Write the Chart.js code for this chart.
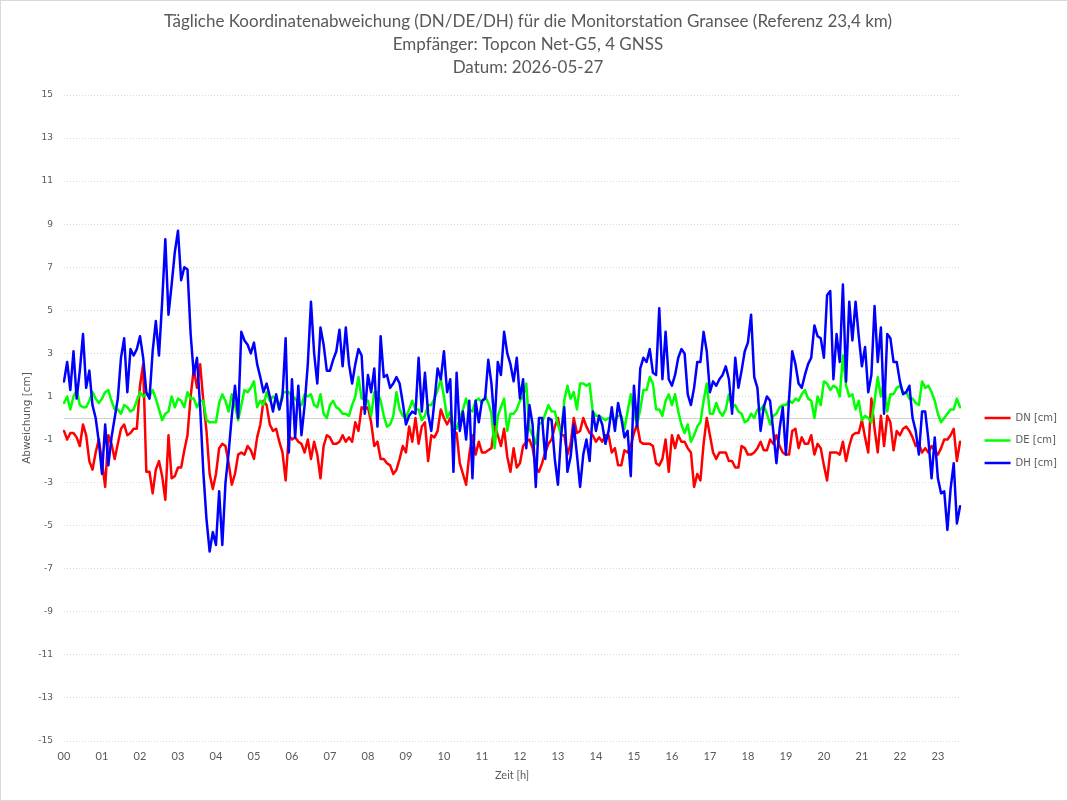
<!DOCTYPE html>
<html><head><meta charset="utf-8">
<script src="https://cdn.jsdelivr.net/npm/chart.js@4.4.1/dist/chart.umd.min.js"></script>
<style>
html,body{margin:0;padding:0;background:#fff;}
#wrap{position:relative;width:1066px;height:799px;border:1px solid #d9d9d9;background:#fff;}
</style></head><body>
<div id="wrap"><canvas id="c" width="1066" height="799"></canvas></div>
<script>
const hourLabels = ['00','01','02','03','04','05','06','07','08','09','10','11','12','13','14','15','16','17','18','19','20','21','22','23'];
const minuteLabels = ['00','05','10','15','20','25','30','35','40','45','50','55'];

const DN = [
-0.6,-1.0,-0.7,-0.7,-0.9,-1.3,-0.3,-0.8,-2.0,-2.4,
-1.6,-1.0,-2.0,-3.2,-0.8,-1.2,-1.9,-1.2,-0.5,-0.3,
-0.8,-0.7,-0.5,-0.5,1.5,2.5,-2.5,-2.5,-3.5,-2.4,
-2.0,-2.7,-3.8,-0.8,-2.8,-2.7,-2.3,-2.3,-1.5,-0.8,
1.0,2.3,1.4,2.5,0.8,-0.6,-2.6,-3.3,
-2.6,-1.4,-1.2,-1.3,-2.1,-3.1,-2.6,-1.7,-1.6,-1.7,
-1.3,-1.5,-1.9,-0.9,-0.3,0.8,0.6,-0.3,-0.6,-0.5,
-1.1,-1.6,-2.9,-0.8,-1.0,-0.9,-1.1,-1.2,-1.6,-1.0,
-1.9,-1.1,-1.7,-2.8,-1.3,-0.8,-0.9,-1.2,-1.2,-1.1,
-0.8,-1.1,-0.9,-1.1,-0.2,-0.6,0.5,0.4,
0.5,-0.2,-1.3,-1.1,-1.9,-1.9,-2.1,-2.2,-2.6,-2.4,
-1.9,-1.3,-1.6,-0.4,-1.1,0.0,-1.2,-0.4,-0.2,-2.0,
-0.8,-0.9,-0.6,0.4,0.0,-0.3,0.0,-0.6,-0.7,-2.1,
-2.6,-3.1,-1.7,-0.8,-1.7,-1.1,-1.6,-1.6,-1.5,-1.4,
-0.3,-0.8,-1.3,-0.5,-1.8,-2.5,-1.4,
-2.3,-2.1,-1.3,-1.1,-1.0,-1.4,-2.3,-2.5,-2.1,-1.6,
-1.2,-1.0,-0.4,0.0,-0.8,-0.8,-1.7,-1.2,0.0,-0.7,
-0.6,0.0,-0.4,-0.7,-0.8,-1.1,-0.9,-1.1,-0.8,-0.8,
-1.6,-1.4,-2.2,-2.2,-1.5,-1.6,-1.3,-0.7,-0.3,-1.1,
-1.2,-1.2,-1.2,-1.3,-2.1,-2.2,-1.9,
-1.0,-2.5,-0.8,-1.4,-0.8,-1.1,-1.1,-1.4,-1.6,-3.2,
-2.6,-2.9,-1.2,0.0,-0.8,-1.6,-1.9,-1.6,-1.6,-1.6,
-2.0,-2.0,-2.3,-2.3,-1.3,-1.4,-1.7,-1.7,-1.6,-1.4,
-1.1,-1.5,-1.5,-1.0,-1.2,-0.8,-1.3,-1.6,-1.7,-1.7,
-0.6,-0.5,-1.4,-0.9,-1.2,-1.2,-0.8,-1.7,
-1.2,-1.4,-2.2,-2.9,-1.6,-1.6,-1.6,-1.7,-1.1,-2.0,
-1.3,-0.8,-0.7,-0.7,-0.1,-0.9,-1.6,0.9,-0.5,-1.6,
0.1,-1.3,0.1,-0.2,-1.5,-0.6,-0.8,-0.5,-0.4,-0.6,
-0.9,-1.3,-1.2,-1.6,-1.4,-1.6,-1.3,-1.5,-1.7,-1.4,
-1.0,-1.0,-0.8,-0.5,-2.0,-1.1
];

const DE = [
0.7,1.0,0.4,1.0,1.3,0.6,0.5,0.5,0.8,1.2,
0.9,0.7,0.9,1.2,1.3,0.8,0.4,0.4,0.2,0.6,
0.5,0.3,0.4,0.8,1.2,1.0,1.1,1.0,1.3,0.9,
0.4,-0.1,0.2,0.3,1.0,0.5,0.9,0.8,0.5,1.2,
0.9,0.9,0.5,0.8,0.8,-0.1,-0.2,-0.2,
-0.2,0.7,1.1,0.8,0.3,1.1,0.6,-0.1,0.6,1.3,
1.2,1.4,1.7,0.5,0.8,0.6,1.2,0.8,1.0,0.9,
0.4,1.2,1.2,1.2,1.0,0.9,0.7,0.6,1.1,1.0,
1.1,0.6,0.5,1.1,0.2,0.0,0.6,0.8,0.5,0.4,
0.2,0.2,0.1,0.6,1.0,1.9,0.9,0.9,
0.8,0.1,1.2,1.2,0.8,0.1,-0.4,-0.3,0.1,1.2,
0.4,0.1,0.0,0.4,0.8,0.4,0.4,-0.1,0.1,0.6,
0.6,0.9,1.3,1.8,1.0,0.0,0.3,-0.4,-0.5,0.0,
0.4,0.9,0.4,0.3,0.8,0.9,0.7,1.0,0.7,0.2,
-1.4,0.1,0.5,0.9,-0.6,0.2,0.2,
0.4,0.8,1.0,1.6,-0.5,-0.8,-1.2,-0.3,-0.2,0.2,
0.6,0.3,0.3,-0.3,-0.8,0.8,1.5,0.9,1.2,0.4,
1.6,1.6,1.5,1.6,0.3,0.1,0.1,0.0,-0.1,0.0,
0.0,-0.1,0.1,0.1,-0.5,0.3,1.1,0.2,-0.3,0.4,
1.3,1.3,1.9,1.6,0.4,0.4,0.1,
0.8,1.1,0.6,1.1,0.3,-0.3,-0.7,-0.3,-1.1,-0.8,
-0.4,-0.2,0.8,1.6,0.2,0.2,0.7,0.3,0.1,0.4,
1.1,0.5,0.6,0.3,0.2,-0.2,-0.1,0.2,0.0,0.4,
0.4,0.6,0.2,-0.3,0.1,0.2,0.5,0.6,0.6,0.8,
0.7,0.9,0.8,1.1,1.3,0.9,0.8,0.0,
1.0,0.6,1.7,1.6,1.3,1.5,1.4,1.0,2.9,1.5,
1.0,1.1,0.4,0.8,-0.1,0.1,0.0,-0.2,0.8,1.9,
1.0,1.7,0.3,1.1,1.1,1.4,1.5,1.2,1.2,0.9,
0.9,0.7,0.6,1.7,1.4,1.5,1.2,0.8,0.2,-0.2,
0.0,0.2,0.4,0.4,0.9,0.5
];

const DH = [
1.7,2.6,1.3,3.1,0.9,2.2,3.9,1.4,2.2,0.6,
0.0,-1.1,-2.6,-0.3,-2.2,-0.9,0.0,0.9,2.8,3.7,
1.2,3.2,2.9,3.2,3.8,2.8,1.2,0.9,3.1,4.5,
2.9,5.4,8.3,4.8,6.2,7.7,8.7,6.4,7.0,6.9,
3.9,2.0,2.8,0.5,-2.5,-4.7,-6.2,-5.3,
-5.9,-3.4,-5.9,-3.0,-1.6,0.1,1.5,0.0,4.0,3.6,
3.4,3.0,3.5,2.5,1.9,1.2,1.6,1.0,0.3,1.1,
0.4,1.0,3.7,-1.6,1.8,-0.9,1.5,-0.8,0.6,2.5,
5.4,3.0,1.6,4.2,3.4,2.2,2.2,2.7,3.1,4.1,
2.4,4.2,2.5,1.6,2.5,3.2,2.9,0.2,
2.0,1.2,2.3,-0.4,3.8,1.9,2.0,1.4,1.6,1.9,
1.6,0.7,-0.3,0.1,0.3,0.2,2.8,0.3,2.1,0.2,
-0.6,0.8,2.3,1.8,3.1,1.2,1.8,-2.5,2.1,-0.6,
0.3,-1.0,0.8,-2.8,0.8,-0.2,0.8,0.9,2.7,1.6,
-0.3,2.6,2.0,4.0,3.0,2.5,1.7,
2.8,0.9,1.8,-1.4,0.6,-0.3,-3.2,0.0,0.0,-1.9,
0.0,-0.1,-1.9,-3.1,-0.8,0.5,-2.5,-1.8,-0.3,-1.7,
-3.2,-1.7,-1.0,-2.0,0.3,-0.6,0.1,-0.3,-1.2,-0.6,
0.5,-0.6,0.7,0.0,-0.9,-0.6,-2.7,1.5,-0.4,2.3,
2.8,2.6,3.2,2.1,2.0,5.1,1.8,
4.0,1.8,1.5,2.0,2.8,3.2,3.0,1.1,0.6,1.4,
2.6,2.6,4.0,3.1,1.2,1.7,1.5,1.8,2.0,2.4,
1.8,0.2,2.8,1.4,2.2,3.1,3.5,4.8,1.9,1.4,
-0.6,0.5,1.0,0.8,-0.6,-2.1,-0.5,0.5,-1.7,0.9,
3.1,2.5,1.6,1.4,2.0,2.5,2.8,4.3,
3.8,3.7,2.8,5.7,5.9,1.8,3.9,2.6,6.2,1.7,
5.4,3.6,5.4,3.8,2.4,3.3,1.2,2.0,5.2,2.6,
4.2,0.2,3.9,3.7,2.6,2.6,1.7,1.1,1.2,1.5,
0.0,-0.6,-1.7,0.3,0.3,-1.0,-2.8,-0.9,-2.8,-3.5,
-3.4,-5.2,-3.3,-2.1,-4.9,-4.1
];

const seriesNames = ['DN [cm]','DE [cm]','DH [cm]'];
const seriesColors = ['#ff0000','#00ff00','#0000ff'];
const titleLines = ['Tägliche Koordinatenabweichung (DN/DE/DH) für die Monitorstation Gransee (Referenz 23,4 km)','Empfänger: Topcon Net-G5, 4 GNSS','Datum: 2026-05-27'];

const timeLabels = [];
hourLabels.forEach(h => minuteLabels.forEach(m => timeLabels.push(h + ':' + m)));
const labels = timeLabels.slice(0, DN.length);

const TXT = '#595959';
const NARROW = 'Lato, "Open Sans", sans-serif';
const UI = '"DejaVu Sans", sans-serif';

const zeroLine = {
  id: 'zeroLine',
  beforeDatasetsDraw(chart) {
    const {ctx, chartArea, scales} = chart;
    const y = Math.round(scales.y.getPixelForValue(0)) + 0.5;
    ctx.save();
    ctx.strokeStyle = '#d0d0d0';
    ctx.lineWidth = 1;
    ctx.beginPath();
    ctx.moveTo(chartArea.left, y);
    ctx.lineTo(chartArea.right, y);
    ctx.stroke();
    ctx.restore();
  }
};

const legendOffset = {
  id: 'legendOffset',
  afterLayout(chart) {
    const lg = chart.legend;
    if (!lg) return;
    const dx = 12, dy = 40;
    lg.left += dx; lg.right += dx;
    lg.top += dy; lg.bottom += dy;
  }
};

const series = [DN, DE, DH];
new Chart(document.getElementById('c'), {
  type: 'line',
  data: {
    labels: labels,
    datasets: series.map((d, k) => ({
      label: seriesNames[k],
      data: d,
      borderColor: seriesColors[k],
      backgroundColor: seriesColors[k],
      borderWidth: 2.5,
      pointRadius: 0,
      pointStyle: 'line',
      tension: 0,
      borderJoinStyle: 'round',
      borderCapStyle: 'round',
      order: 2 - k
    }))
  },
  options: {
    responsive: false,
    animation: false,
    layout: { padding: { left: 0, right: 12, top: 0, bottom: 0 } },
    plugins: {
      title: {
        display: true,
        text: titleLines,
        color: TXT,
        font: { family: NARROW, size: 17, weight: 'normal', lineHeight: 1.353 },
        padding: { top: 9, bottom: 16 }
      },
      legend: {
        position: 'right',
        align: 'center',
        labels: {
          usePointStyle: true,
          pointStyle: 'line',
          pointStyleWidth: 26,
          color: TXT,
          font: { family: UI, size: 10 },
          padding: 12.5,
          sort: (a, b) => a.datasetIndex - b.datasetIndex
        }
      },
      tooltip: { enabled: false }
    },
    scales: {
      x: {
        type: 'category',
        offset: false,
        grid: { display: false, drawTicks: false },
        border: { display: false },
        ticks: {
          autoSkip: false,
          maxRotation: 0,
          minRotation: 0,
          padding: 9,
          color: TXT,
          font: { family: NARROW, size: 11 },
          callback: function(v, i) {
            const lab = labels[i];
            return lab.endsWith(':00') ? lab.slice(0, 2) : null;
          }
        },
        title: {
          display: true,
          text: 'Zeit [h]',
          color: TXT,
          font: { family: NARROW, size: 11 },
          padding: { top: 4, bottom: 18 }
        },
        afterFit(scale) { scale.height = 59; }
      },
      y: {
        min: -15,
        max: 15,
        grid: { color: '#d9d9d9', lineWidth: 1, drawTicks: false },
        border: { display: false, dash: [1, 2] },
        ticks: {
          stepSize: 2,
          padding: 11,
          color: TXT,
          font: { family: UI, size: 9 }
        },
        title: {
          display: true,
          text: 'Abweichung [cm]',
          color: TXT,
          font: { family: UI, size: 10.5 },
          padding: { top: 20, bottom: 6 }
        },
        afterFit(scale) { scale.width = 63; }
      }
    }
  },
  plugins: [zeroLine, legendOffset]
});
</script>
</body></html>
